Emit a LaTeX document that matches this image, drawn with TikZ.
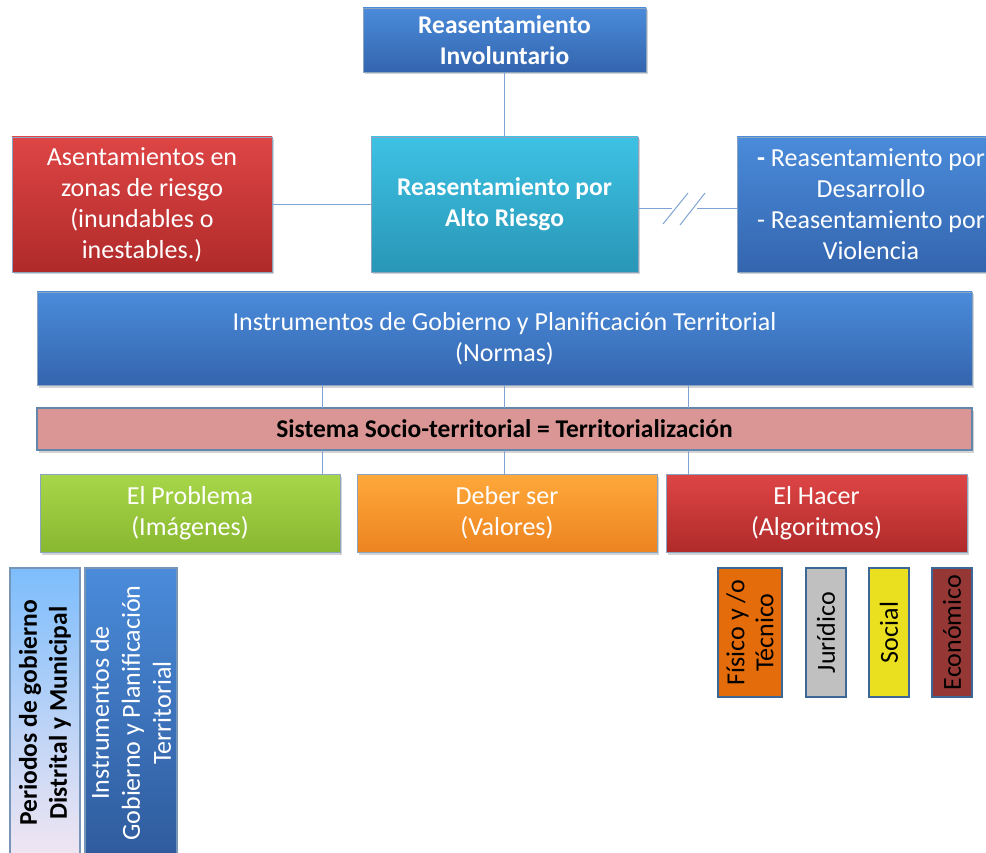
\documentclass[tikz,border=0pt]{standalone}
\usepackage{fontspec}
\setmainfont{Carlito}
\usetikzlibrary{shadows}
\definecolor{bluetop}{HTML}{4A8BDA}
\definecolor{bluebot}{HTML}{3465AE}
\definecolor{cyantop}{HTML}{3DC2E4}
\definecolor{cyanbot}{HTML}{2996B6}
\definecolor{redtop}{HTML}{DE4545}
\definecolor{redbot}{HTML}{B02A2A}
\definecolor{greentop}{HTML}{A8D64A}
\definecolor{greenbot}{HTML}{88B830}
\definecolor{orangetop}{HTML}{FFA83A}
\definecolor{orangebot}{HTML}{EC8420}
\definecolor{linkcol}{HTML}{7FA3D4}
\definecolor{edgecol}{HTML}{3C6898}
\definecolor{pinkfill}{HTML}{D99694}
\definecolor{skyleft}{HTML}{7DBDFC}
\definecolor{paleright}{HTML}{F1E6F2}
\tikzset{
  box/.style={rectangle, inner sep=2pt, align=center, text=white,
    draw=edgecol!60, line width=0.6pt,
    drop shadow={opacity=0.35, shadow xshift=1.5pt, shadow yshift=-2.5pt}},
  bluebox/.style={box, top color=bluetop, bottom color=bluebot},
  cyanbox/.style={box, top color=cyantop, bottom color=cyanbot},
  redbox/.style={box, top color=redtop, bottom color=redbot},
  greenbox/.style={box, top color=greentop, bottom color=greenbot},
  orangebox/.style={box, top color=orangetop, bottom color=orangebot},
  tagbox/.style={rectangle, rotate=90, inner sep=1pt, align=center,
    draw=edgecol, line width=2.2pt, text=black,
    font=\fontsize{26}{29}\selectfont},
  link/.style={draw=linkcol, line width=1pt},
  big/.style={font=\fontsize{26}{31}\selectfont},
  bigb/.style={font=\bfseries\fontsize{25.5}{31}\selectfont}
}
\begin{document}
\begin{tikzpicture}[x=1pt,y=-1pt]
\useasboundingbox (0,0) rectangle (986,853);
\begin{scope}
\clip (0,0) rectangle (986,853);

% upper row
\node[bluebox, bigb, minimum width=283, minimum height=64] (inv) at (504.5,40)
  {Reasentamiento\\Involuntario};
\node[cyanbox, bigb, minimum width=267, minimum height=135] (alto) at (504.5,204.5)
  {Reasentamiento por\\Alto Riesgo};
\node[redbox, big, minimum width=260, minimum height=135] (asen) at (142,204.5)
  {Asentamientos en\\zonas de riesgo\\(inundables o\\inestables.)};
\node[bluebox, big, minimum width=268, minimum height=135] (otros) at (871,204.5)
  {\textbf{-} Reasentamiento por\\Desarrollo\\- Reasentamiento por\\Violencia};

% norms and territorial system
\node[bluebox, big, minimum width=935, minimum height=93] (norm) at (504.5,338.5)
  {Instrumentos de Gobierno y Planificación Territorial\\(Normas)};
\node[box, text=black, fill=pinkfill, draw=edgecol!80, line width=1.5pt,
  drop shadow={opacity=0}, font=\bfseries\fontsize{25.5}{28}\selectfont,
  minimum width=935, minimum height=42] (sis) at (504.5,429)
  {Sistema Socio-territorial = Territorialización};

% three aspects
\node[greenbox, big, minimum width=300, minimum height=78] (prob) at (190,513)
  {El Problema\\(Imágenes)};
\node[orangebox, big, minimum width=300, minimum height=78] (deber) at (507,513)
  {Deber ser\\(Valores)};
\node[redbox, big, minimum width=301, minimum height=78] (hacer) at (816.5,513)
  {El Hacer\\(Algoritmos)};

% vertical tags, lower left (they run past the bottom edge)
\node[rectangle, rotate=90, align=center, inner sep=1pt,
  top color=skyleft, bottom color=paleright,
  draw=edgecol!70, line width=1.2pt,
  font=\bfseries\fontsize{25.5}{30}\selectfont,
  minimum width=290, minimum height=70] (per) at (45,713)
  {Periodos de gobierno\\Distrital y Municipal};
\node[rectangle, rotate=90, align=center, inner sep=1pt, text=white,
  top color=bluetop, bottom color=bluebot!90!black,
  draw=edgecol!70, line width=1.2pt,
  font=\fontsize{26}{31}\selectfont,
  minimum width=290, minimum height=92] (instv) at (131,713)
  {Instrumentos de\\Gobierno y Planificación\\Territorial};

% vertical tags, lower right
\node[tagbox, fill={rgb,255:red,228;green,108;blue,10},
  minimum width=129, minimum height=64] (fis) at (750,632.5)
  {Físico y /o\\Técnico};
\node[tagbox, fill={rgb,255:red,192;green,192;blue,192},
  minimum width=129, minimum height=40] (jur) at (826,632.5) {Jurídico};
\node[tagbox, fill={rgb,255:red,234;green,224;blue,32},
  minimum width=129, minimum height=40] (soc) at (889,632.5) {Social};
\node[tagbox, fill={rgb,255:red,149;green,55;blue,53},
  minimum width=129, minimum height=40] (eco) at (952,632.5) {Económico};
\end{scope}

% connectors
\draw[link] (inv.south) -- (alto.north);
\draw[link] (asen.east) -- (alto.west);
\coordinate (brkL) at (672,209);
\coordinate (brkR) at (697,209);
\draw[link] (alto.east |- brkL) -- (brkL);
\draw[link] (brkR) -- (otros.west |- brkR);
\draw[link] (663,224) -- (688,193);
\draw[link] (680,225) -- (705,193);

\foreach \x in {322,504,688}{
  \draw[link] (\x,385) -- (\x,408);
  \draw[link] (\x,450) -- (\x,474);
}
\end{tikzpicture}
\end{document}
